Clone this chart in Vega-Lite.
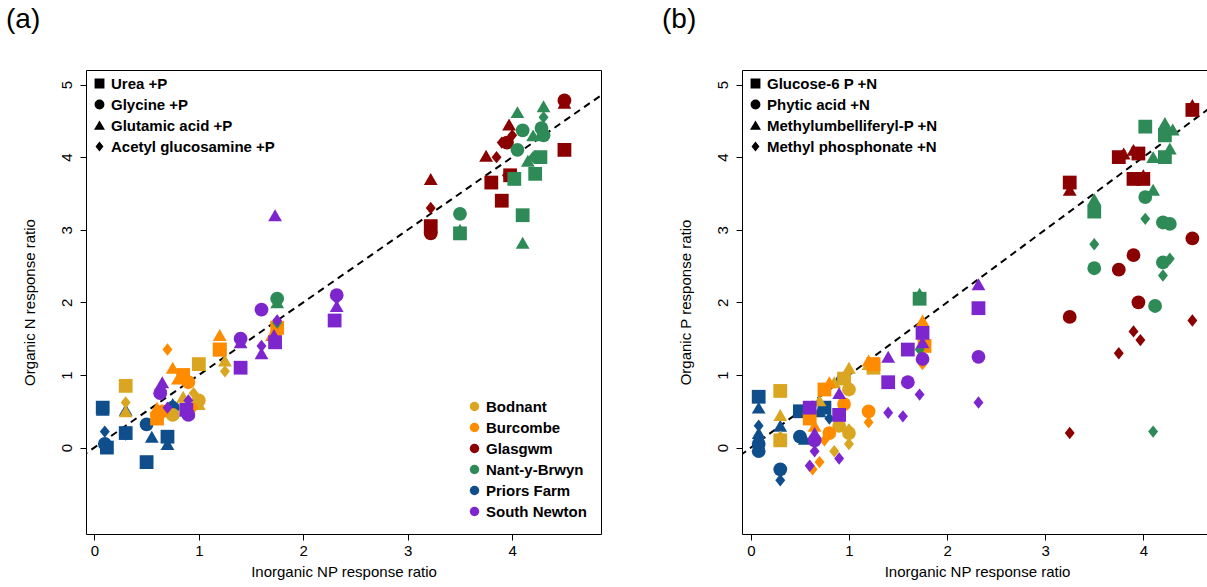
{
  "$schema": "https://vega.github.io/schema/vega-lite/v6.json",
  "background": "white",
  "padding": {"left": 5, "top": 5, "right": 0, "bottom": 0},
  "spacing": 59,
  "datasets": {
    "diag": [{"x": -0.5, "y": -0.5}, {"x": 5.5, "y": 5.5}],
    "pts": [
      {"p":"a","s":"Priors Farm","t":"A","x":0.08,"y":0.55},
      {"p":"a","s":"Priors Farm","t":"B","x":0.1,"y":0.05},
      {"p":"a","s":"Priors Farm","t":"D","x":0.1,"y":0.22},
      {"p":"a","s":"Priors Farm","t":"A","x":0.12,"y":0.0},
      {"p":"a","s":"Priors Farm","t":"A","x":0.3,"y":0.2},
      {"p":"a","s":"Priors Farm","t":"C","x":0.3,"y":0.52},
      {"p":"a","s":"Priors Farm","t":"D","x":0.3,"y":0.18},
      {"p":"a","s":"Priors Farm","t":"B","x":0.5,"y":0.32},
      {"p":"a","s":"Priors Farm","t":"A","x":0.5,"y":-0.2},
      {"p":"a","s":"Priors Farm","t":"C","x":0.55,"y":0.15},
      {"p":"a","s":"Priors Farm","t":"A","x":0.7,"y":0.15},
      {"p":"a","s":"Priors Farm","t":"C","x":0.7,"y":0.05},
      {"p":"a","s":"Priors Farm","t":"B","x":0.75,"y":0.55},
      {"p":"a","s":"Priors Farm","t":"C","x":0.75,"y":0.6},
      {"p":"a","s":"Priors Farm","t":"C","x":0.08,"y":0.52},
      {"p":"a","s":"Bodnant","t":"A","x":0.3,"y":0.85},
      {"p":"a","s":"Bodnant","t":"D","x":0.3,"y":0.62},
      {"p":"a","s":"Bodnant","t":"C","x":0.3,"y":0.5},
      {"p":"a","s":"Bodnant","t":"A","x":1.0,"y":1.15},
      {"p":"a","s":"Bodnant","t":"B","x":1.0,"y":0.65},
      {"p":"a","s":"Bodnant","t":"D","x":0.95,"y":0.75},
      {"p":"a","s":"Bodnant","t":"C","x":1.0,"y":0.6},
      {"p":"a","s":"Bodnant","t":"C","x":0.85,"y":0.7},
      {"p":"a","s":"Bodnant","t":"D","x":1.25,"y":1.05},
      {"p":"a","s":"Bodnant","t":"A","x":1.2,"y":1.35},
      {"p":"a","s":"Bodnant","t":"B","x":0.75,"y":0.45},
      {"p":"a","s":"Bodnant","t":"C","x":1.25,"y":1.2},
      {"p":"a","s":"Burcombe","t":"D","x":0.7,"y":1.35},
      {"p":"a","s":"Burcombe","t":"C","x":0.75,"y":1.1},
      {"p":"a","s":"Burcombe","t":"C","x":0.8,"y":0.95},
      {"p":"a","s":"Burcombe","t":"A","x":0.6,"y":0.4},
      {"p":"a","s":"Burcombe","t":"B","x":0.65,"y":0.5},
      {"p":"a","s":"Burcombe","t":"C","x":0.6,"y":0.55},
      {"p":"a","s":"Burcombe","t":"C","x":1.2,"y":1.55},
      {"p":"a","s":"Burcombe","t":"A","x":1.2,"y":1.35},
      {"p":"a","s":"Burcombe","t":"B","x":0.9,"y":0.9},
      {"p":"a","s":"Burcombe","t":"A","x":0.85,"y":1.0},
      {"p":"a","s":"Burcombe","t":"A","x":1.75,"y":1.65},
      {"p":"a","s":"Burcombe","t":"C","x":1.7,"y":1.55},
      {"p":"a","s":"Burcombe","t":"D","x":0.95,"y":0.55},
      {"p":"a","s":"Burcombe","t":"D","x":1.75,"y":1.55},
      {"p":"a","s":"Glasgwm","t":"C","x":3.22,"y":3.7},
      {"p":"a","s":"Glasgwm","t":"D","x":3.22,"y":3.3},
      {"p":"a","s":"Glasgwm","t":"A","x":3.22,"y":3.05},
      {"p":"a","s":"Glasgwm","t":"B","x":3.22,"y":2.95},
      {"p":"a","s":"Glasgwm","t":"C","x":3.75,"y":4.02},
      {"p":"a","s":"Glasgwm","t":"A","x":3.8,"y":3.65},
      {"p":"a","s":"Glasgwm","t":"D","x":3.85,"y":4.0},
      {"p":"a","s":"Glasgwm","t":"A","x":3.9,"y":3.4},
      {"p":"a","s":"Glasgwm","t":"B","x":3.95,"y":4.2},
      {"p":"a","s":"Glasgwm","t":"C","x":3.97,"y":4.45},
      {"p":"a","s":"Glasgwm","t":"A","x":3.98,"y":3.75},
      {"p":"a","s":"Glasgwm","t":"D","x":3.9,"y":4.2},
      {"p":"a","s":"Glasgwm","t":"D","x":3.95,"y":3.75},
      {"p":"a","s":"Glasgwm","t":"C","x":4.5,"y":4.75},
      {"p":"a","s":"Glasgwm","t":"B","x":4.5,"y":4.78},
      {"p":"a","s":"Glasgwm","t":"A","x":4.5,"y":4.1},
      {"p":"a","s":"Glasgwm","t":"D","x":4.0,"y":4.3},
      {"p":"a","s":"Nant-y-Brwyn","t":"B","x":3.5,"y":3.22},
      {"p":"a","s":"Nant-y-Brwyn","t":"C","x":3.5,"y":3.0},
      {"p":"a","s":"Nant-y-Brwyn","t":"A","x":3.5,"y":2.95},
      {"p":"a","s":"Nant-y-Brwyn","t":"C","x":4.05,"y":4.62},
      {"p":"a","s":"Nant-y-Brwyn","t":"A","x":4.02,"y":3.7},
      {"p":"a","s":"Nant-y-Brwyn","t":"A","x":4.1,"y":3.2},
      {"p":"a","s":"Nant-y-Brwyn","t":"C","x":4.1,"y":2.82},
      {"p":"a","s":"Nant-y-Brwyn","t":"B","x":4.1,"y":4.37},
      {"p":"a","s":"Nant-y-Brwyn","t":"B","x":4.05,"y":4.1},
      {"p":"a","s":"Nant-y-Brwyn","t":"A","x":4.22,"y":3.77},
      {"p":"a","s":"Nant-y-Brwyn","t":"D","x":4.2,"y":4.0},
      {"p":"a","s":"Nant-y-Brwyn","t":"C","x":4.2,"y":4.3},
      {"p":"a","s":"Nant-y-Brwyn","t":"C","x":4.3,"y":4.7},
      {"p":"a","s":"Nant-y-Brwyn","t":"D","x":4.3,"y":4.55},
      {"p":"a","s":"Nant-y-Brwyn","t":"B","x":4.3,"y":4.3},
      {"p":"a","s":"Nant-y-Brwyn","t":"A","x":4.27,"y":4.0},
      {"p":"a","s":"Nant-y-Brwyn","t":"B","x":4.28,"y":4.4},
      {"p":"a","s":"Nant-y-Brwyn","t":"C","x":4.15,"y":3.95},
      {"p":"a","s":"Nant-y-Brwyn","t":"B","x":1.75,"y":2.05},
      {"p":"a","s":"Nant-y-Brwyn","t":"C","x":1.75,"y":2.0},
      {"p":"a","s":"Nant-y-Brwyn","t":"D","x":1.75,"y":1.72},
      {"p":"a","s":"South Newton","t":"C","x":1.73,"y":3.2},
      {"p":"a","s":"South Newton","t":"B","x":2.32,"y":2.1},
      {"p":"a","s":"South Newton","t":"D","x":2.32,"y":2.05},
      {"p":"a","s":"South Newton","t":"C","x":2.32,"y":1.95},
      {"p":"a","s":"South Newton","t":"A","x":2.3,"y":1.75},
      {"p":"a","s":"South Newton","t":"B","x":1.6,"y":1.9},
      {"p":"a","s":"South Newton","t":"D","x":1.75,"y":1.75},
      {"p":"a","s":"South Newton","t":"A","x":1.73,"y":1.45},
      {"p":"a","s":"South Newton","t":"C","x":1.72,"y":1.55},
      {"p":"a","s":"South Newton","t":"C","x":1.6,"y":1.3},
      {"p":"a","s":"South Newton","t":"D","x":1.6,"y":1.4},
      {"p":"a","s":"South Newton","t":"B","x":1.4,"y":1.5},
      {"p":"a","s":"South Newton","t":"C","x":1.4,"y":1.45},
      {"p":"a","s":"South Newton","t":"A","x":1.4,"y":1.1},
      {"p":"a","s":"South Newton","t":"B","x":0.63,"y":0.75},
      {"p":"a","s":"South Newton","t":"C","x":0.65,"y":0.9},
      {"p":"a","s":"South Newton","t":"D","x":0.65,"y":0.78},
      {"p":"a","s":"South Newton","t":"A","x":0.88,"y":0.52},
      {"p":"a","s":"South Newton","t":"B","x":0.9,"y":0.45},
      {"p":"a","s":"South Newton","t":"D","x":0.9,"y":0.65},
      {"p":"a","s":"South Newton","t":"D","x":0.7,"y":0.55},

      {"p":"b","s":"Priors Farm","t":"A","x":0.08,"y":0.7},
      {"p":"b","s":"Priors Farm","t":"C","x":0.08,"y":0.55},
      {"p":"b","s":"Priors Farm","t":"D","x":0.08,"y":0.3},
      {"p":"b","s":"Priors Farm","t":"C","x":0.08,"y":0.2},
      {"p":"b","s":"Priors Farm","t":"B","x":0.08,"y":0.05},
      {"p":"b","s":"Priors Farm","t":"B","x":0.08,"y":-0.05},
      {"p":"b","s":"Priors Farm","t":"C","x":0.3,"y":0.3},
      {"p":"b","s":"Priors Farm","t":"C","x":0.3,"y":0.15},
      {"p":"b","s":"Priors Farm","t":"B","x":0.3,"y":-0.3},
      {"p":"b","s":"Priors Farm","t":"D","x":0.3,"y":-0.45},
      {"p":"b","s":"Priors Farm","t":"B","x":0.5,"y":0.15},
      {"p":"b","s":"Priors Farm","t":"A","x":0.5,"y":0.5},
      {"p":"b","s":"Priors Farm","t":"C","x":0.55,"y":0.12},
      {"p":"b","s":"Priors Farm","t":"C","x":0.7,"y":0.5},
      {"p":"b","s":"Priors Farm","t":"D","x":0.8,"y":0.4},
      {"p":"b","s":"Priors Farm","t":"A","x":0.75,"y":0.55},
      {"p":"b","s":"Priors Farm","t":"C","x":0.9,"y":0.95},
      {"p":"b","s":"Bodnant","t":"A","x":0.3,"y":0.78},
      {"p":"b","s":"Bodnant","t":"C","x":0.3,"y":0.45},
      {"p":"b","s":"Bodnant","t":"D","x":0.3,"y":0.15},
      {"p":"b","s":"Bodnant","t":"A","x":0.3,"y":0.1},
      {"p":"b","s":"Bodnant","t":"C","x":0.85,"y":0.9},
      {"p":"b","s":"Bodnant","t":"C","x":1.0,"y":1.1},
      {"p":"b","s":"Bodnant","t":"A","x":0.95,"y":0.95},
      {"p":"b","s":"Bodnant","t":"B","x":1.0,"y":0.8},
      {"p":"b","s":"Bodnant","t":"D","x":1.0,"y":0.25},
      {"p":"b","s":"Bodnant","t":"D","x":1.0,"y":0.05},
      {"p":"b","s":"Bodnant","t":"B","x":0.9,"y":0.3},
      {"p":"b","s":"Bodnant","t":"D","x":0.85,"y":-0.05},
      {"p":"b","s":"Bodnant","t":"B","x":1.0,"y":0.2},
      {"p":"b","s":"Bodnant","t":"C","x":1.2,"y":1.15},
      {"p":"b","s":"Bodnant","t":"A","x":1.25,"y":1.1},
      {"p":"b","s":"Bodnant","t":"C","x":0.7,"y":0.65},
      {"p":"b","s":"Burcombe","t":"A","x":0.6,"y":0.4},
      {"p":"b","s":"Burcombe","t":"C","x":0.65,"y":0.3},
      {"p":"b","s":"Burcombe","t":"D","x":0.63,"y":-0.3},
      {"p":"b","s":"Burcombe","t":"D","x":0.7,"y":-0.2},
      {"p":"b","s":"Burcombe","t":"A","x":0.75,"y":0.8},
      {"p":"b","s":"Burcombe","t":"C","x":0.8,"y":0.9},
      {"p":"b","s":"Burcombe","t":"B","x":0.8,"y":0.2},
      {"p":"b","s":"Burcombe","t":"D","x":0.75,"y":0.1},
      {"p":"b","s":"Burcombe","t":"C","x":1.2,"y":1.2},
      {"p":"b","s":"Burcombe","t":"A","x":1.25,"y":1.15},
      {"p":"b","s":"Burcombe","t":"B","x":1.2,"y":0.5},
      {"p":"b","s":"Burcombe","t":"D","x":1.2,"y":0.35},
      {"p":"b","s":"Burcombe","t":"C","x":1.75,"y":1.75},
      {"p":"b","s":"Burcombe","t":"A","x":1.77,"y":1.4},
      {"p":"b","s":"Burcombe","t":"D","x":1.75,"y":1.15},
      {"p":"b","s":"Burcombe","t":"B","x":0.95,"y":0.6},
      {"p":"b","s":"Glasgwm","t":"A","x":3.25,"y":3.65},
      {"p":"b","s":"Glasgwm","t":"C","x":3.25,"y":3.55},
      {"p":"b","s":"Glasgwm","t":"B","x":3.25,"y":1.8},
      {"p":"b","s":"Glasgwm","t":"D","x":3.25,"y":0.2},
      {"p":"b","s":"Glasgwm","t":"A","x":3.75,"y":4.0},
      {"p":"b","s":"Glasgwm","t":"C","x":3.8,"y":4.05},
      {"p":"b","s":"Glasgwm","t":"B","x":3.75,"y":2.45},
      {"p":"b","s":"Glasgwm","t":"D","x":3.75,"y":1.3},
      {"p":"b","s":"Glasgwm","t":"A","x":3.9,"y":3.7},
      {"p":"b","s":"Glasgwm","t":"C","x":3.9,"y":4.1},
      {"p":"b","s":"Glasgwm","t":"B","x":3.9,"y":2.65},
      {"p":"b","s":"Glasgwm","t":"B","x":3.95,"y":2.0},
      {"p":"b","s":"Glasgwm","t":"D","x":3.97,"y":1.48},
      {"p":"b","s":"Glasgwm","t":"D","x":3.9,"y":1.6},
      {"p":"b","s":"Glasgwm","t":"A","x":4.0,"y":3.7},
      {"p":"b","s":"Glasgwm","t":"C","x":4.0,"y":3.75},
      {"p":"b","s":"Glasgwm","t":"C","x":4.5,"y":4.72},
      {"p":"b","s":"Glasgwm","t":"A","x":4.5,"y":4.65},
      {"p":"b","s":"Glasgwm","t":"B","x":4.5,"y":2.88},
      {"p":"b","s":"Glasgwm","t":"D","x":4.5,"y":1.75},
      {"p":"b","s":"Glasgwm","t":"A","x":3.95,"y":4.05},
      {"p":"b","s":"Nant-y-Brwyn","t":"C","x":1.72,"y":2.12},
      {"p":"b","s":"Nant-y-Brwyn","t":"A","x":1.72,"y":2.05},
      {"p":"b","s":"Nant-y-Brwyn","t":"D","x":1.72,"y":1.35},
      {"p":"b","s":"Nant-y-Brwyn","t":"C","x":3.5,"y":3.42},
      {"p":"b","s":"Nant-y-Brwyn","t":"A","x":3.5,"y":3.25},
      {"p":"b","s":"Nant-y-Brwyn","t":"D","x":3.5,"y":2.8},
      {"p":"b","s":"Nant-y-Brwyn","t":"B","x":3.5,"y":2.47},
      {"p":"b","s":"Nant-y-Brwyn","t":"A","x":4.02,"y":4.42},
      {"p":"b","s":"Nant-y-Brwyn","t":"B","x":4.02,"y":3.45},
      {"p":"b","s":"Nant-y-Brwyn","t":"C","x":4.1,"y":3.55},
      {"p":"b","s":"Nant-y-Brwyn","t":"D","x":4.02,"y":3.15},
      {"p":"b","s":"Nant-y-Brwyn","t":"C","x":4.1,"y":4.0},
      {"p":"b","s":"Nant-y-Brwyn","t":"B","x":4.12,"y":1.95},
      {"p":"b","s":"Nant-y-Brwyn","t":"D","x":4.1,"y":0.22},
      {"p":"b","s":"Nant-y-Brwyn","t":"C","x":4.22,"y":4.47},
      {"p":"b","s":"Nant-y-Brwyn","t":"A","x":4.22,"y":4.3},
      {"p":"b","s":"Nant-y-Brwyn","t":"B","x":4.2,"y":3.1},
      {"p":"b","s":"Nant-y-Brwyn","t":"B","x":4.27,"y":3.08},
      {"p":"b","s":"Nant-y-Brwyn","t":"B","x":4.2,"y":2.55},
      {"p":"b","s":"Nant-y-Brwyn","t":"D","x":4.2,"y":2.37},
      {"p":"b","s":"Nant-y-Brwyn","t":"D","x":4.27,"y":2.6},
      {"p":"b","s":"Nant-y-Brwyn","t":"A","x":4.22,"y":4.0},
      {"p":"b","s":"Nant-y-Brwyn","t":"C","x":4.27,"y":4.12},
      {"p":"b","s":"Nant-y-Brwyn","t":"C","x":4.3,"y":4.38},
      {"p":"b","s":"South Newton","t":"C","x":2.32,"y":2.25},
      {"p":"b","s":"South Newton","t":"A","x":2.32,"y":1.92},
      {"p":"b","s":"South Newton","t":"B","x":2.32,"y":1.25},
      {"p":"b","s":"South Newton","t":"D","x":2.32,"y":0.62},
      {"p":"b","s":"South Newton","t":"A","x":1.75,"y":1.58},
      {"p":"b","s":"South Newton","t":"C","x":1.75,"y":1.45},
      {"p":"b","s":"South Newton","t":"B","x":1.75,"y":1.22},
      {"p":"b","s":"South Newton","t":"D","x":1.72,"y":0.73},
      {"p":"b","s":"South Newton","t":"A","x":1.6,"y":1.35},
      {"p":"b","s":"South Newton","t":"B","x":1.6,"y":0.9},
      {"p":"b","s":"South Newton","t":"D","x":1.55,"y":0.43},
      {"p":"b","s":"South Newton","t":"C","x":1.4,"y":1.25},
      {"p":"b","s":"South Newton","t":"A","x":1.4,"y":0.9},
      {"p":"b","s":"South Newton","t":"D","x":1.4,"y":0.48},
      {"p":"b","s":"South Newton","t":"A","x":0.6,"y":0.55},
      {"p":"b","s":"South Newton","t":"B","x":0.65,"y":0.1},
      {"p":"b","s":"South Newton","t":"D","x":0.65,"y":-0.05},
      {"p":"b","s":"South Newton","t":"D","x":0.6,"y":-0.25},
      {"p":"b","s":"South Newton","t":"C","x":0.9,"y":0.75},
      {"p":"b","s":"South Newton","t":"A","x":0.9,"y":0.45},
      {"p":"b","s":"South Newton","t":"D","x":0.9,"y":-0.15},
      {"p":"b","s":"South Newton","t":"C","x":0.65,"y":0.2}
    ]
  },
  "hconcat": [
    {
      "width": 515,
      "height": 464,
      "title": {"text": "(a)", "anchor": "start", "frame": "group", "dx": -80, "offset": 36, "fontSize": 28, "fontWeight": "normal", "font": "Liberation Sans"},
      "layer": [
        {
          "data": {"name": "diag"},
          "mark": {"type": "line", "clip": true, "color": "black", "strokeDash": [7, 5], "strokeWidth": 2},
          "encoding": {
            "x": {"field": "x", "type": "quantitative", "scale": {"domain": [-0.08, 4.85], "nice": false, "zero": false}, "axis": {"values": [0, 1, 2, 3, 4], "format": "d"}},
            "y": {"field": "y", "type": "quantitative", "scale": {"domain": [-1.19, 5.2], "nice": false, "zero": false}, "axis": {"values": [0, 1, 2, 3, 4, 5], "format": "d"}}
          }
        },
        {
          "data": {"name": "pts"},
          "transform": [{"filter": "datum.p == 'a'"}],
          "mark": {"type": "point", "filled": true, "opacity": 1, "size": 190},
          "encoding": {
            "x": {"field": "x", "type": "quantitative", "title": "Inorganic NP response ratio"},
            "y": {"field": "y", "type": "quantitative", "title": "Organic N response ratio"},
            "color": {"field": "s", "type": "nominal",
              "scale": {"domain": ["Bodnant", "Burcombe", "Glasgwm", "Nant-y-Brwyn", "Priors Farm", "South Newton"],
                        "range": ["#DAA520", "#FF8C00", "#8B0000", "#2E8B57", "#104E8B", "#7D26CD"]},
              "legend": {"title": null, "orient": "bottom-right", "symbolType": "circle", "symbolSize": 90, "labelFontSize": 15, "labelFontWeight": "bold", "labelFont": "Liberation Sans", "rowPadding": 5, "offset": 14}},
            "shape": {"field": "t", "type": "nominal",
              "scale": {"domain": ["A", "B", "C", "D"], "range": ["square", "circle", "triangle-up", "M0,-0.9L0.72,0L0,0.9L-0.72,0Z"]},
              "legend": {"title": null, "orient": "top-left", "symbolFillColor": "black", "symbolStrokeColor": "black", "symbolSize": 70, "labelFontSize": 15, "labelFontWeight": "bold", "labelFont": "Liberation Sans", "labelLimit": 400, "rowPadding": 5, "offset": 6,
                "labelExpr": "{'A':'Urea +P','B':'Glycine +P','C':'Glutamic acid +P','D':'Acetyl glucosamine +P'}[datum.value]"}}
          }
        }
      ]
    },
    {
      "width": 470,
      "height": 464,
      "title": {"text": "(b)", "anchor": "start", "frame": "group", "dx": -80, "offset": 36, "fontSize": 28, "fontWeight": "normal", "font": "Liberation Sans"},
      "layer": [
        {
          "data": {"name": "diag"},
          "mark": {"type": "line", "clip": true, "color": "black", "strokeDash": [7, 5], "strokeWidth": 2},
          "encoding": {
            "x": {"field": "x", "type": "quantitative", "scale": {"domain": [-0.09, 4.7], "nice": false, "zero": false}, "axis": {"values": [0, 1, 2, 3, 4], "format": "d"}},
            "y": {"field": "y", "type": "quantitative", "scale": {"domain": [-1.19, 5.2], "nice": false, "zero": false}, "axis": {"values": [0, 1, 2, 3, 4, 5], "format": "d"}}
          }
        },
        {
          "data": {"name": "pts"},
          "transform": [{"filter": "datum.p == 'b'"}],
          "mark": {"type": "point", "filled": true, "opacity": 1, "size": 190},
          "encoding": {
            "x": {"field": "x", "type": "quantitative", "title": "Inorganic NP response ratio"},
            "y": {"field": "y", "type": "quantitative", "title": "Organic P response ratio"},
            "color": {"field": "s", "type": "nominal",
              "scale": {"domain": ["Bodnant", "Burcombe", "Glasgwm", "Nant-y-Brwyn", "Priors Farm", "South Newton"],
                        "range": ["#DAA520", "#FF8C00", "#8B0000", "#2E8B57", "#104E8B", "#7D26CD"]},
              "legend": null},
            "shape": {"field": "t", "type": "nominal",
              "scale": {"domain": ["A", "B", "C", "D"], "range": ["square", "circle", "triangle-up", "M0,-0.9L0.72,0L0,0.9L-0.72,0Z"]},
              "legend": {"title": null, "orient": "top-left", "symbolFillColor": "black", "symbolStrokeColor": "black", "symbolSize": 70, "labelFontSize": 15, "labelFontWeight": "bold", "labelFont": "Liberation Sans", "labelLimit": 400, "rowPadding": 5, "offset": 6,
                "labelExpr": "{'A':'Glucose-6 P +N','B':'Phytic acid +N','C':'Methylumbelliferyl-P +N','D':'Methyl phosphonate +N'}[datum.value]"}}
          }
        }
      ]
    }
  ],
  "resolve": {"scale": {"x": "independent", "y": "independent", "shape": "independent", "color": "independent"}, "legend": {"shape": "independent", "color": "independent"}},
  "config": {
    "font": "Liberation Sans",
    "view": {"stroke": "black", "strokeWidth": 1},
    "axis": {"grid": false, "domain": false, "tickColor": "black", "tickSize": 6, "labelColor": "black", "labelFontSize": 15, "labelPadding": 3, "titleFontSize": 15, "titleFontWeight": "normal", "titleColor": "black"},
    "axisX": {"titlePadding": 6},
    "axisY": {"labelAngle": -90, "labelAlign": "center", "labelBaseline": "bottom", "labelPadding": 6, "titlePadding": 22}
  }
}
